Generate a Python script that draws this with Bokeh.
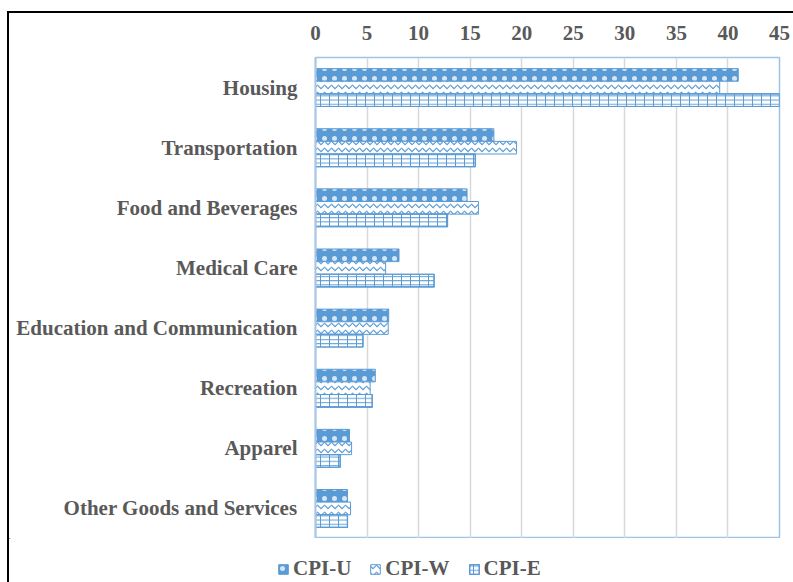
from bokeh.plotting import figure
from bokeh.models import FactorRange, Range1d, Legend, LegendItem, ColumnDataSource
from bokeh.layouts import column
from bokeh.transform import dodge
from bokeh.embed import file_html
from bokeh.resources import INLINE

categories = ["Housing", "Transportation", "Food and Beverages", "Medical Care",
              "Education and Communication", "Recreation", "Apparel",
              "Other Goods and Services"]
cpi_u = [41.0, 17.3, 14.7, 8.1, 7.1, 5.8, 3.3, 3.1]
cpi_w = [39.2, 19.5, 15.8, 6.8, 7.05, 5.3, 3.5, 3.4]
cpi_e = [45.0, 15.5, 12.8, 11.5, 4.6, 5.5, 2.4, 3.1]
series_names = ["CPI-U", "CPI-W", "CPI-E"]
x_ticks = [0, 5, 10, 15, 20, 25, 30, 35, 40, 45]

BLUE = "#5B9BD5"
TXT = "#595959"
FONT = "Liberation Serif"

STYLE_U = dict(fill_color=BLUE, line_color=BLUE, line_width=1,
               hatch_pattern="dot", hatch_color="white", hatch_scale=10,
               hatch_weight=0.8, hatch_alpha=0.75)
STYLE_W = dict(fill_color="white", line_color=BLUE, line_width=1,
               hatch_pattern="horizontal_wave", hatch_color=BLUE, hatch_scale=7, hatch_weight=1.2)
STYLE_E1 = dict(fill_color="white", line_color=BLUE, line_width=1.2,
                hatch_pattern="horizontal_line", hatch_color=BLUE, hatch_scale=4.2, hatch_weight=1)
STYLE_E2 = dict(fill_alpha=0, line_color=BLUE, line_width=1.2,
                hatch_pattern="vertical_line", hatch_color=BLUE, hatch_scale=9, hatch_weight=1)

src = ColumnDataSource(dict(cat=categories, u=cpi_u, w=cpi_w, e=cpi_e))

p = figure(y_range=FactorRange(*categories[::-1]), x_range=Range1d(0, 45),
           x_axis_location="above", output_backend="svg", toolbar_location=None,
           frame_width=464, frame_height=481,
           min_border_left=306, min_border_right=14, min_border_top=44, min_border_bottom=0)
p.frame_align = False

h = 0.21
p.hbar(y=dodge("cat", h, range=p.y_range), right="u", left=0, height=h, source=src, **STYLE_U)
p.hbar(y=dodge("cat", 0, range=p.y_range), right="w", left=0, height=h, source=src, **STYLE_W)
p.hbar(y=dodge("cat", -h, range=p.y_range), right="e", left=0, height=h, source=src, **STYLE_E1)
p.hbar(y=dodge("cat", -h, range=p.y_range), right="e", left=0, height=h, source=src, **STYLE_E2)

p.xaxis.ticker = x_ticks
p.xaxis.axis_line_color = None
p.xaxis.major_tick_line_color = None
p.xaxis.minor_tick_line_color = None
p.xaxis.major_tick_out = 0
p.xaxis.minor_tick_out = 0
p.xaxis.major_label_standoff = 18
p.yaxis.axis_line_color = "#A9C6E6"
p.yaxis.axis_line_width = 2
p.yaxis.major_tick_line_color = None
p.yaxis.minor_tick_line_color = None
p.yaxis.major_tick_out = 0
p.yaxis.minor_tick_out = 0
p.yaxis.major_label_standoff = 18
for ax in (p.xaxis[0], p.yaxis[0]):
    ax.major_label_text_font = FONT
    ax.major_label_text_font_size = "21px"
    ax.major_label_text_font_style = "bold"
    ax.major_label_text_color = TXT

p.xgrid.grid_line_color = "#D9D9D9"
p.xgrid.grid_line_width = 1.5
p.ygrid.grid_line_color = None
p.outline_line_color = "#9DC3E6"
p.outline_line_width = 1.5
p.background_fill_color = "white"
p.border_fill_color = "white"

# legend strip below the chart (its bars are pushed outside its visible area)
lg = figure(width=784, height=44, y_range=FactorRange(*categories), x_range=Range1d(100, 101),
            x_axis_type=None, y_axis_type=None,
            output_backend="svg", toolbar_location=None, min_border=0)
lg.frame_align = False
lg.grid.visible = False
lg.outline_line_color = None
lg.border_fill_color = "white"
lg.background_fill_color = "white"
off = dodge("cat", 100, range=lg.y_range)
l_u = lg.hbar(y=off, right="u", left=0, height=h, source=src, **STYLE_U)
l_w = lg.hbar(y=off, right="w", left=0, height=h, source=src, **STYLE_W)
l_e1 = lg.hbar(y=off, right="e", left=0, height=h, source=src, **STYLE_E1)
l_e2 = lg.hbar(y=off, right="e", left=0, height=h, source=src, **STYLE_E2)

legend = Legend(items=[LegendItem(label=series_names[0], renderers=[l_u]),
                       LegendItem(label=series_names[1], renderers=[l_w]),
                       LegendItem(label=series_names[2], renderers=[l_e1, l_e2])],
                orientation="horizontal", location=(268, 1),
                label_text_font=FONT, label_text_font_size="21px",
                label_text_font_style="bold", label_text_color=TXT,
                glyph_width=12, glyph_height=12, label_standoff=4, spacing=18,
                padding=2, margin=0, border_line_color=None, background_fill_alpha=0)
lg.add_layout(legend, "center")

layout = column(p, lg, spacing=0)
layout.styles = {"border-top": "2px solid black", "border-left": "2px solid black",
                 "margin-top": "11px", "margin-left": "7px"}

open("out.html", "w").write(file_html(layout, INLINE))
